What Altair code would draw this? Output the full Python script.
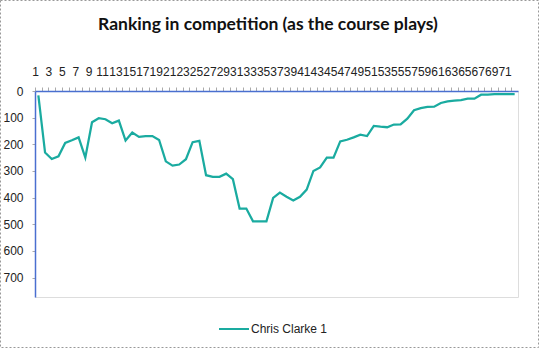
import altair as alt
import pandas as pd

holes = list(range(1, 73))
ranking = [16, 231, 255, 245, 195, 185, 174, 250, 117, 102, 106, 121, 111, 186, 156, 172,
           169, 169, 184, 264, 280, 276, 256, 192, 187, 316, 322, 322, 310, 331, 441, 441,
           489, 489, 489, 401, 381, 397, 411, 397, 370, 300, 287, 250, 250, 189, 183, 174,
           164, 169, 131, 134, 136, 126, 125, 104, 72, 64, 60, 59, 45, 39, 36, 34,
           29, 29, 14, 14, 12, 12, 12, 12]
series_name = "Chris Clarke 1"
title_text = "Ranking in competition (as the course plays)"
y_ticks = [0, 100, 200, 300, 400, 500, 600, 700]

df = pd.DataFrame({"hole": holes, "rank": ranking, "series": series_name})

FONT = "Liberation Sans"
BLUE = "#4a6fd0"
TEAL = "#1aaba0"

line = alt.Chart(df).mark_line(strokeWidth=2.25).encode(
    x=alt.X("hole:O", scale=alt.Scale(type="point", padding=0.5),
            axis=alt.Axis(orient="top", title=None, labelAngle=0,
                          labelExpr="datum.value % 2 == 1 ? datum.label : ''",
                          labelOverlap=False, labelFont=FONT, labelFontSize=12,
                          labelColor="#222", labelPadding=9, tickSize=4,
                          tickOffset=-3.35, tickColor="#aaaaaa",
                          domainColor=BLUE, domainWidth=1.5)),
    y=alt.Y("rank:Q", scale=alt.Scale(domain=[0, 773], reverse=True, nice=False),
            axis=alt.Axis(values=y_ticks, title=None, grid=False, labelFont=FONT,
                          labelFontSize=12, labelColor="#222", labelPadding=9,
                          tickSize=3, tickColor="#aaaaaa",
                          domainColor=BLUE, domainWidth=1.5)),
    color=alt.Color("series:N", scale=alt.Scale(domain=[series_name], range=[TEAL]),
                    legend=alt.Legend(title=None, orient="none", legendX=183, legendY=222,
                                      symbolType="stroke", symbolSize=900,
                                      symbolStrokeWidth=2, labelFont=FONT,
                                      labelFontSize=12, labelColor="#222",
                                      labelOffset=1)),
)

border = alt.Chart(pd.DataFrame({"a": [0]})).mark_rect(
    fill=None, stroke="#999999", strokeDash=[2, 2], strokeWidth=1, clip=False
).encode(
    x=alt.value(-34.5), x2=alt.value(503.5), y=alt.value(-90.5), y2=alt.value(256.5)
)

title = alt.Chart(pd.DataFrame({"t": [title_text]})).mark_text(
    font="Lato", fontSize=17.5, fontWeight="bold", color="#111",
    align="center", baseline="alphabetic", clip=False
).encode(text="t:N", x=alt.value(233), y=alt.value(-61))

chart = alt.layer(border, line, title).properties(
    width=483, height=206,
    autosize=alt.AutoSizeParams(type="none"),
    padding={"left": 35, "top": 91, "right": 21, "bottom": 51},
).configure_view(stroke=BLUE, strokeWidth=1.5).configure(background="white")

chart.save("out.html", embed_options={"renderer": "svg", "actions": False})
